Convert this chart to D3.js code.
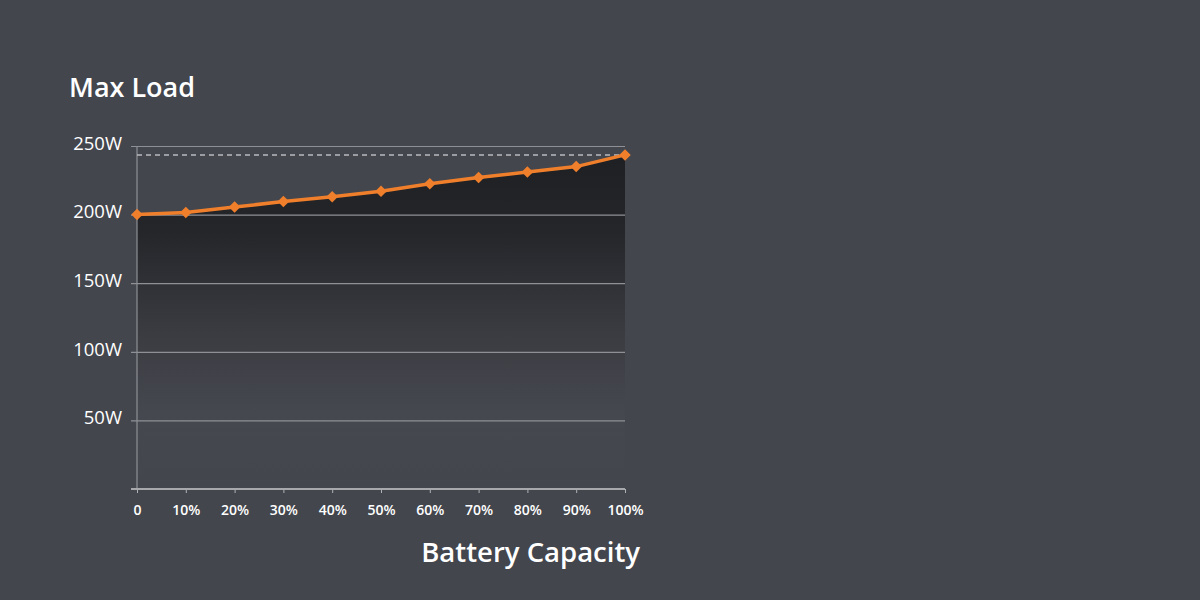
<!DOCTYPE html>
<html>
<head>
<meta charset="utf-8">
<script src="https://cdn.jsdelivr.net/npm/d3@7"></script>
<style>
  html, body { margin: 0; padding: 0; background: #43464d; }
  svg { display: block; }
  text { font-family: "Open Sans", "Noto Sans", sans-serif; fill: #ffffff; }
</style>
</head>
<body>
<div id="chart"></div>
<script>
const width = 1200;
const height = 600;
const margin = {top: 146, right: 575, bottom: 111, left: 137};
const graphWidth = width - margin.left - margin.right;
const graphHeight = height - margin.top - margin.bottom;

// battery capacity (%) and max load (W)
const capacity = [0, 10, 20, 30, 40, 50, 60, 70, 80, 90, 100];
const maxLoad = [200, 201.5, 205.5, 209.5, 213, 217, 222.5, 227, 231, 235, 243.5];
const yTicks = [50, 100, 150, 200, 250];
const xTickLabels = ["0", "10%", "20%", "30%", "40%", "50%", "60%", "70%", "80%", "90%", "100%"];

const data = capacity.map((c, i) => ({cap: c, load: maxLoad[i]}));

const svg = d3.select('#chart')
  .append('svg')
  .attr('width', width)
  .attr('height', height);

svg.append('rect')
  .attr('width', width)
  .attr('height', height)
  .attr('fill', '#43464d');

const graph = svg.append('g')
  .attr('transform', 'translate(' + margin.left + ',' + margin.top + ')');

const x = d3.scaleLinear().domain([0, 100]).range([0, graphWidth]);
const y = d3.scaleLinear().domain([0, 250]).range([graphHeight, 0]);

// gradient under the line
const defs = svg.append('defs');
const grad = defs.append('linearGradient')
  .attr('id', 'areaGrad')
  .attr('gradientUnits', 'userSpaceOnUse')
  .attr('x1', 0).attr('x2', 0)
  .attr('y1', y(250)).attr('y2', y(0));
grad.append('stop').attr('offset', '0%').attr('stop-color', '#1e1f23');
grad.append('stop').attr('offset', '25%').attr('stop-color', '#25262a');
grad.append('stop').attr('offset', '55%').attr('stop-color', '#3a3c42');
grad.append('stop').attr('offset', '78%').attr('stop-color', '#46484f');
grad.append('stop').attr('offset', '100%').attr('stop-color', '#43464d');

const area = d3.area()
  .x(d => x(d.cap))
  .y0(y(0))
  .y1(d => y(d.load));

graph.append('path')
  .datum(data)
  .attr('d', area)
  .attr('fill', 'url(#areaGrad)');

// gridlines
graph.append('g')
  .attr('class', 'grid')
  .call(d3.axisLeft(y).tickValues(yTicks).tickSize(-graphWidth - 6).tickFormat(''))
  .attr('transform', 'translate(-6,0)')
  .call(g => g.select('.domain').remove())
  .call(g => g.selectAll('line').attr('stroke', '#8e9095').attr('stroke-width', 1.2));

// y tick labels
graph.selectAll('.ylabel')
  .data(yTicks)
  .enter()
  .append('text')
    .attr('class', 'ylabel')
    .attr('x', -15)
    .attr('y', d => y(d))
    .attr('dy', '0.2em')
    .attr('text-anchor', 'end')
    .attr('font-size', 18.5)
    .attr('font-weight', 500)
    .text(d => d + 'W');

// y axis line
graph.append('line')
  .attr('x1', 0).attr('x2', 0)
  .attr('y1', 0).attr('y2', graphHeight)
  .attr('stroke', '#8e9095')
  .attr('stroke-width', 1.2);

// x axis
const xAxis = d3.axisBottom(x)
  .tickValues(capacity)
  .tickSize(4)
  .tickFormat((d, i) => xTickLabels[i]);

graph.append('g')
  .attr('class', 'x axis')
  .attr('transform', 'translate(0,' + graphHeight + ')')
  .call(xAxis)
  .call(g => g.select('.domain').remove())
  .call(g => g.selectAll('line').attr('stroke', '#b0b2b6'))
  .call(g => g.selectAll('text')
    .attr('fill', '#ffffff')
    .attr('font-size', 14)
    .attr('font-weight', 600)
    .attr('font-family', '"Open Sans", "Noto Sans", sans-serif')
    .attr('y', 16));

graph.append('line')
  .attr('x1', -6).attr('x2', graphWidth)
  .attr('y1', graphHeight).attr('y2', graphHeight)
  .attr('stroke', '#a6a8ac')
  .attr('stroke-width', 2);

// dashed line at the max value
const maxVal = d3.max(maxLoad);
graph.append('line')
  .attr('x1', 0).attr('x2', graphWidth)
  .attr('y1', y(maxVal)).attr('y2', y(maxVal))
  .attr('stroke', '#b9bbbf')
  .attr('stroke-width', 1.5)
  .attr('stroke-dasharray', '5,4');

// the line
const line = d3.line()
  .x(d => x(d.cap))
  .y(d => y(d.load));

graph.append('path')
  .datum(data)
  .attr('d', line)
  .attr('fill', 'none')
  .attr('stroke', '#f07f2c')
  .attr('stroke-width', 3.5);

graph.selectAll('.marker')
  .data(data)
  .enter()
  .append('path')
    .attr('class', 'marker')
    .attr('d', d3.symbol().type(d3.symbolDiamond2).size(85))
    .attr('transform', d => 'translate(' + x(d.cap) + ',' + y(d.load) + ')')
    .attr('fill', '#f07f2c');

// titles
svg.append('text')
  .attr('x', 69)
  .attr('y', 97)
  .attr('font-size', 27)
  .attr('font-weight', 600)
  .text('Max Load');

svg.append('text')
  .attr('x', 640)
  .attr('y', 562)
  .attr('text-anchor', 'end')
  .attr('font-size', 27.5)
  .attr('font-weight', 600)
  .text('Battery Capacity');
</script>
</body>
</html>
